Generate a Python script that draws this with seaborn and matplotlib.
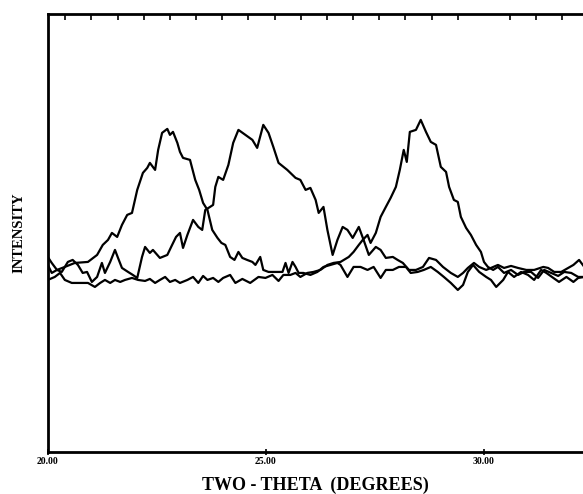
import pandas as pd
import seaborn as sns
import matplotlib.pyplot as plt
from matplotlib.ticker import MultipleLocator

# scan A: peak near 22.7 deg
theta_a = [20.00, 20.09, 20.21, 20.39, 20.62, 20.92, 21.13, 21.26, 21.38, 21.47, 21.59, 21.70, 21.82,
           21.93, 22.05, 22.18, 22.28, 22.34, 22.46, 22.53, 22.62, 22.74, 22.80, 22.87, 22.97, 23.03,
           23.10, 23.26, 23.38, 23.47, 23.56, 23.66, 23.77, 23.89, 23.98, 24.07, 24.18, 24.28, 24.37,
           24.46, 24.57, 24.69, 24.76, 24.87, 24.94, 25.06, 25.26, 25.38, 25.45, 25.52, 25.61, 25.68,
           25.75, 25.86, 26.02, 26.18, 26.32, 26.48, 26.64, 26.71, 26.87, 27.01, 27.17, 27.33, 27.47,
           27.63, 27.75, 27.91, 28.05, 28.21, 28.32, 28.48, 28.62, 28.78, 28.94, 29.08, 29.24, 29.40,
           29.52, 29.63, 29.75, 29.89, 30.05, 30.16, 30.28, 30.44, 30.55, 30.69, 30.85, 31.01, 31.15,
           31.31, 31.43, 31.59, 31.72, 31.89, 32.05, 32.16, 32.30]
int_a = [187, 179, 182, 185, 189, 190, 197, 207, 212, 219, 215, 227, 237,
         239, 262, 279, 284, 289, 282, 302, 319, 323, 317, 320, 309, 300,
         294, 292, 272, 262, 249, 242, 222, 214, 209, 207, 195, 192, 200,
         194, 192, 190, 187, 195, 182, 180, 180, 180, 189, 179, 190, 185,
         179, 179, 177, 180, 185, 187, 189, 187, 175, 185, 185, 182, 185,
         174, 182, 182, 185, 185, 179, 180, 182, 185, 180, 175, 169, 162,
         167, 180, 187, 180, 175, 172, 165, 172, 180, 175, 180, 177, 172,
         182, 179, 174, 170, 175, 170, 174, 175]

# scan B: shoulder near 23.6 deg, main peak near 24.9 deg
theta_b = [20.00, 20.09, 20.21, 20.32, 20.46, 20.57, 20.69, 20.80, 20.90, 21.01, 21.13, 21.24, 21.31,
           21.43, 21.54, 21.61, 21.70, 21.84, 21.95, 22.05, 22.16, 22.23, 22.34, 22.41, 22.57, 22.74,
           22.85, 22.94, 23.03, 23.10, 23.20, 23.33, 23.45, 23.54, 23.61, 23.72, 23.79, 23.84, 23.91,
           24.02, 24.14, 24.25, 24.37, 24.53, 24.69, 24.80, 24.94, 25.06, 25.17, 25.29, 25.49, 25.68,
           25.79, 25.91, 26.02, 26.14, 26.21, 26.32, 26.41, 26.53, 26.64, 26.76, 26.87, 26.99, 27.13,
           27.24, 27.36, 27.52, 27.63, 27.75, 27.91, 28.02, 28.14, 28.28, 28.44, 28.60, 28.74, 28.90,
           29.06, 29.24, 29.40, 29.52, 29.63, 29.77, 29.89, 30.05, 30.16, 30.32, 30.46, 30.62, 30.78,
           30.97, 31.15, 31.36, 31.47, 31.61, 31.77, 31.93, 32.05, 32.18, 32.30]
int_b = [195, 189, 182, 180, 190, 192, 187, 179, 180, 170, 175, 189, 179,
         190, 202, 194, 184, 180, 177, 174, 195, 205, 199, 202, 194, 197,
         207, 215, 219, 204, 217, 232, 225, 222, 242, 245, 247, 265, 275,
         272, 287, 309, 322, 317, 312, 304, 327, 319, 305, 289, 282, 274,
         272, 262, 264, 252, 239, 245, 222, 197, 212, 225, 222, 214, 225,
         212, 197, 205, 202, 194, 195, 192, 189, 182, 182, 185, 194, 192,
         185, 179, 175, 179, 184, 189, 185, 182, 184, 187, 184, 186, 184,
         182, 182, 185, 184, 180, 180, 184, 187, 192, 185]

# scan C: peak near 28.5 deg
theta_c = [20.00, 20.16, 20.28, 20.39, 20.55, 20.74, 20.92, 21.08, 21.20, 21.31, 21.43, 21.54, 21.66,
           21.77, 21.93, 22.07, 22.23, 22.34, 22.46, 22.57, 22.69, 22.80, 22.92, 23.03, 23.20, 23.33,
           23.45, 23.56, 23.66, 23.79, 23.91, 24.02, 24.18, 24.30, 24.46, 24.64, 24.83, 24.99, 25.15,
           25.29, 25.40, 25.56, 25.68, 25.79, 25.95, 26.09, 26.25, 26.41, 26.55, 26.71, 26.90, 27.01,
           27.13, 27.22, 27.33, 27.40, 27.52, 27.63, 27.75, 27.86, 27.98, 28.07, 28.16, 28.23, 28.30,
           28.44, 28.55, 28.67, 28.78, 28.90, 29.01, 29.13, 29.20, 29.31, 29.40, 29.47, 29.59, 29.70,
           29.82, 29.93, 30.00, 30.09, 30.21, 30.32, 30.46, 30.62, 30.78, 30.92, 31.08, 31.24, 31.38,
           31.54, 31.70, 31.84, 32.00, 32.16, 32.30]
int_c = [172, 175, 179, 172, 169, 169, 169, 165, 169, 172, 169, 172, 170,
         172, 174, 172, 171, 173, 169, 172, 175, 170, 172, 169, 172, 175,
         169, 176, 172, 174, 170, 174, 177, 169, 173, 169, 175, 174, 177,
         171, 177, 177, 179, 175, 179, 180, 182, 187, 189, 190, 195, 200,
         207, 212, 217, 209, 219, 235, 245, 254, 265, 282, 302, 290, 320,
         322, 332, 320, 310, 307, 285, 280, 265, 252, 250, 235, 224, 217,
         207, 200, 190, 185, 182, 185, 179, 182, 177, 180, 180, 174, 182,
         179, 176, 180, 179, 175, 175]

frames = []
for name, t, i in [("A", theta_a, int_a), ("B", theta_b, int_b), ("C", theta_c, int_c)]:
    frames.append(pd.DataFrame({"two_theta": t, "intensity": i, "scan": name}))
data = pd.concat(frames, ignore_index=True)

sns.set_theme(style="white")
plt.rcParams['font.family'] = ['Liberation Serif', 'DejaVu Serif']
plt.rcParams['text.color'] = 'black'
plt.rcParams['axes.labelcolor'] = 'black'
plt.rcParams['xtick.color'] = 'black'

fig = plt.figure(figsize=(5.83, 4.94), dpi=100)
ax = fig.add_axes([0.082, 0.085, 0.918, 0.887])

sns.lineplot(data=data, x="two_theta", y="intensity", units="scan", estimator=None,
             color="black", linewidth=1.6, sort=False, ax=ax)

ax.set_xlim(20.0, 32.27)
ax.set_ylim(0, 438)

for side in ["left", "bottom", "top"]:
    ax.spines[side].set_color("black")
    ax.spines[side].set_linewidth(2.0)
ax.spines["right"].set_visible(False)

ax.set_xticks([20, 25, 30])
ax.set_xticklabels(["20.00", "25.00", "30.00"], fontsize=7, fontweight="bold")
ax.xaxis.set_minor_locator(MultipleLocator(0.6))
ax.tick_params(axis="x", which="major", bottom=True, top=False, direction="inout",
               length=5, width=1.2, pad=1, colors="black")
ax.tick_params(axis="x", which="minor", bottom=False, top=True, direction="in",
               length=4, width=1.2, colors="black")
ax.set_yticks([])

ax.set_xlabel("TWO - THETA  (DEGREES)", fontsize=13, fontweight="bold", labelpad=8, color="black")
ax.set_ylabel("INTENSITY", fontsize=10.5, fontweight="bold", labelpad=16, color="black")
if ax.get_legend():
    ax.get_legend().remove()

plt.savefig("out.png", dpi=100)
